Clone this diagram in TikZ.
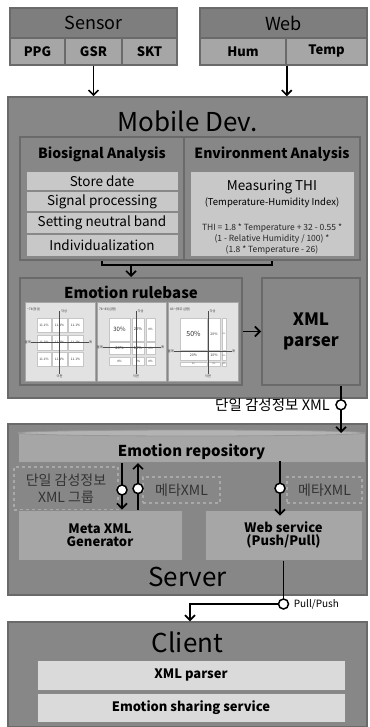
\documentclass[tikz,border=0pt]{standalone}
\usepackage{fontspec}
\setmainfont{Noto Sans CJK KR}
\usetikzlibrary{arrows.meta}

\definecolor{bgGray}{HTML}{878787}
\definecolor{edgeGray}{HTML}{6A6A6A}
\definecolor{headGray}{HTML}{7E7E7E}
\definecolor{midGray}{HTML}{A6A6A6}
\definecolor{lightGray}{HTML}{C8C8C8}
\definecolor{paleGray}{HTML}{DADADA}
\definecolor{chartGray}{HTML}{E2E2E2}
\definecolor{dashGray}{HTML}{A9A9A9}

\newcommand{\fsz}[1]{\fontsize{#1}{#1}\selectfont}

\tikzset{
  box/.style={draw=edgeGray, line width=1.5pt, inner sep=0pt, align=center},
  container/.style={box, fill=bgGray},
  panel/.style={box, line width=2pt, fill=bgGray},
  cell/.style={box, fill=midGray, minimum height=27pt, font=\bfseries\fsz{13}},
  head/.style={font=\bfseries\fsz{14}},
  bigtitle/.style={font=\fsz{26}},
  stackrow/.style={box, draw=edgeGray!80, line width=1pt, fill=lightGray, minimum width=152pt, font=\fsz{13.5}},
  lightbox/.style={box, draw=edgeGray!80, line width=1pt, fill=lightGray},
  dashbox/.style={box, draw=dashGray, dashed, line width=1.5pt, fill=bgGray, text=black!80, font=\fontsize{14}{17}\selectfont, align=center},
  midbox/.style={box, draw=edgeGray!80, line width=1pt, fill=midGray, font=\bfseries\fsz{13}, align=center},
  clientbar/.style={box, draw=edgeGray!80, line width=1pt, fill=paleGray, minimum width=308pt, minimum height=30pt, font=\bfseries\fsz{13}},
  flow/.style={line width=1.6pt, -{Straight Barb[length=5pt, width=10pt]}},
  port/.style={circle, fill=white, draw=black, line width=1.5pt, minimum size=10pt, inner sep=0pt},
  chartbox/.style={box, draw=edgeGray!60, line width=1pt, fill=chartGray},
  chartcell/.style={draw=gray!45, line width=0.3pt, fill=white},
  axisline/.style={draw=gray!60!black, line width=0.4pt},
  tinytext/.style={font=\fsz{3.2}, text=gray!40!black, inner sep=0pt}
}

\begin{document}
\begin{tikzpicture}[x=1pt, y=-1pt]
  \useasboundingbox[fill=white] (0,0) rectangle (369,727);

  % helper for the axes of one rule chart
  \newcommand{\chartaxes}[3]{%
    \draw[axisline] (#1,9) -- (#1,72);
    \draw[axisline] (6,#2) -- (64,#2);
    \node[tinytext, anchor=west] (ctitle) at (2,7) {#3};
    \node[tinytext, anchor=west] (ctop) at (#1+1.5,9) {각성};
    \node[tinytext, anchor=north] (cbot) at (#1,73) {이완};
    \node[tinytext, anchor=east] (cleft) at (6,#2) {불\\쾌};
    \node[tinytext, anchor=west] (cright) at (64,#2) {쾌};
  }

  %==================== sources ====================
  \node[box, fill=headGray, minimum width=167pt, minimum height=30pt, font=\fsz{18}] (sensor) at (93.5,23) {Sensor};
  \node[cell, minimum width=55pt] (ppg) at (37.5,51.5) {PPG};
  \node[cell, minimum width=57pt] (gsr) at (93.5,51.5) {GSR};
  \node[cell, minimum width=55pt] (skt) at (149.5,51.5) {SKT};

  \node[box, fill=headGray, minimum width=167pt, minimum height=30pt, font=\fsz{18}] (web) at (283.5,23) {Web};
  \node[cell, minimum width=86pt] (hum) at (243,51.5) {Hum};
  \node[cell, minimum width=81pt] (temp) at (326.5,51.5) {Temp};

  %==================== mobile device ====================
  \node[container, minimum width=359pt, minimum height=301pt] (mobile) at (187.5,247.5) {};
  \node[bigtitle] (mobiletitle) at (187.5,121) {Mobile Dev.};
  \draw[flow] (gsr.south) -- (gsr.south |- mobile.north);
  \draw[flow] (hum.south east) -- (hum.south east |- mobile.north);

  % analysis panels
  \node[panel, minimum width=164pt, minimum height=123pt] (bio) at (102,198.5) {};
  \node[panel, minimum width=176pt, minimum height=123pt] (env) at (272,198.5) {};
  \node[head] (biotitle) at (102,154) {Biosignal Analysis};
  \node[head] (envtitle) at (272,154) {Environment Analysis};

  \node[stackrow, minimum height=19pt] (store) at (102,181.5) {Store date};
  \node[stackrow, minimum height=20pt] (signal) at (102,202) {Signal processing};
  \node[stackrow, minimum height=20pt] (neutral) at (102,223) {Setting neutral band};
  \node[stackrow, minimum height=22pt] (indiv) at (102,245) {Individualization};

  \node[lightbox, minimum width=164pt, minimum height=84pt] (thi) at (272,214) {};
  \node[font=\fsz{13.5}] (thititle) at (272,187) {Measuring THI};
  \node[font=\fsz{9.5}] (thisub) at (272,203) {(Temperature-Humidity Index)};
  \node[font=\fontsize{8.5}{11}\selectfont, align=center, text=black!85] (thiform) at (272,239)
    {THI = 1.8 * Temperature + 32 - 0.55 *\\(1 - Relative Humidity / 100) *\\(1.8 * Temperature - 26)};

  % rulebase and parser
  \node[panel, minimum width=222pt, minimum height=107pt] (rules) at (131,331.5) {};
  \node[head, font=\bfseries\fsz{15}] (rulestitle) at (131,292) {Emotion rulebase};
  \node[panel, minimum width=98pt, minimum height=107pt, font=\bfseries\fontsize{17}{21}\selectfont] (parser) at (311,331.5) {XML\\parser};

  \draw[line width=1.5pt] (bio.south) -- ++(0,4) coordinate (bl) -| (env.south);
  \draw[flow] (bl -| rules.north) -- (rules.north);
  \draw[flow] (rules.east) -- (parser.west);

  \node[chartbox, minimum width=70pt, minimum height=79pt] (chartA) at (60,341.5) {};
  \node[chartbox, minimum width=69pt, minimum height=79pt] (chartB) at (131.5,341.5) {};
  \node[chartbox, minimum width=70pt, minimum height=79pt] (chartC) at (203,341.5) {};

  \begin{scope}[shift={(25,302)}]
    \foreach \ya/\yb in {16/30,33/48,50/64}
      \foreach \xa/\xb in {12/26,27/42,43/58}
        {\draw[chartcell] (\xa,\ya) rectangle (\xb,\yb);
         \node[tinytext] (cellA) at ({(\xa+\xb)/2},{(\ya+\yb)/2}) {11.1\%};}
    \chartaxes{34.5}{40.5}{\textasciitilde78(정상)}
  \end{scope}

  \begin{scope}[shift={(97,302)}]
    \foreach \xa/\xb/\ya/\yb/\v/\s in {12/33/16/39/30\%/6, 35/47/16/39/20\%/4, 49/58/16/39/0\%/3,
        12/33/40/52/20\%/4, 35/47/40/52/10\%/4, 49/58/40/52/0\%/3,
        12/33/55/63/0\%/3, 35/47/55/63/0\%/3, 49/58/55/63/0\%/3}
      {\draw[chartcell] (\xa,\ya) rectangle (\xb,\yb);
       \node[tinytext, font=\fsz{\s}] (cellB) at ({(\xa+\xb)/2},{(\ya+\yb)/2}) {\v};}
    \chartaxes{39}{45}{78\textasciitilde83(심함)}
  \end{scope}

  \begin{scope}[shift={(168,302)}]
    \foreach \xa/\xb/\ya/\yb/\v/\s in {12/39/16/48/50\%/7, 40/52/16/48/20\%/3.5, 54/58/16/48/0\%/2,
        12/39/49/58/20\%/3.5, 40/52/49/58/10\%/3.5, 54/58/49/58/0\%/2,
        12/39/60/64/0\%/2, 40/52/60/64/0\%/2, 54/58/60/64/0\%/2}
      {\draw[chartcell] (\xa,\ya) rectangle (\xb,\yb);
       \node[tinytext, font=\fsz{\s}] (cellC) at ({(\xa+\xb)/2},{(\ya+\yb)/2}) {\v};}
    \chartaxes{40}{49}{83\textasciitilde(매우 심함)}
  \end{scope}

  \coordinate (outA) at ([xshift=-20pt]parser.south east);

  %==================== server ====================
  \node[container, minimum width=359pt, minimum height=171pt] (server) at (187.5,509.5) {};
  \node[bigtitle] (servertitle) at (187.5,577) {Server};
  \node[box, draw=edgeGray!80, line width=1pt, fill=midGray, minimum width=347pt, minimum height=29pt] (repo) at (191.5,448) {};
  \draw[fill=midGray!85!white, draw=edgeGray!70, line width=0.8pt] (repo.north) ellipse [x radius=173.5pt, y radius=3pt];
  \node[head, font=\bfseries\fsz{15}] (repotitle) at (191.5,452) {Emotion repository};

  \node[dashbox, minimum width=104pt, minimum height=43pt] (group) at (66,488.5) {단일 감성정보\\XML 그룹};
  \node[dashbox, minimum width=77pt, minimum height=26pt] (metaA) at (181.5,490) {메타XML};
  \node[dashbox, minimum width=75pt, minimum height=26pt] (metaB) at (324.5,490) {메타XML};

  \node[midbox, minimum width=164pt, minimum height=50pt] (gen) at (100,535) {Meta XML\\Generator};
  \node[midbox, minimum width=157pt, minimum height=50pt] (websvc) at (283.5,535) {Web service\\(Push/Pull)};

  \coordinate (xa) at (122,0);
  \coordinate (xb) at (138,0);
  \coordinate (xc) at (280,0);
  \draw[flow] (repo.south -| xa) -- node[port, pos=0.58] (portB) {} (gen.north -| xa);
  \draw[flow] (gen.north -| xb) -- node[port, pos=0.45] (portC) {} (repo.south -| xb);
  \draw[flow] ([yshift=2pt]repo.south -| xc) -- node[port, pos=0.5] (portD) {} ([yshift=-6pt]websvc.north -| xc);

  \draw[flow] (outA) -- node[port, pos=0.4] (portA) {} (outA |- repo.north);
  \node[anchor=east, font=\fsz{14.5}] (labA) at ([xshift=-2pt]portA.west) {단일 감성정보 XML};

  %==================== client ====================
  \node[container, minimum width=359pt, minimum height=105pt] (client) at (187.5,674.5) {};
  \node[bigtitle] (clienttitle) at (187.5,642) {Client};
  \node[clientbar] (cparser) at (191,675) {XML parser};
  \node[clientbar, minimum height=29pt] (sharing) at (191,708) {Emotion sharing service};

  \coordinate (turn) at (190,604);
  \draw[flow] (websvc.south) |- (turn) -- (turn |- client.north);
  \node[port] (portE) at (websvc.south |- turn) {};
  \node[anchor=west, font=\fsz{10}] (labE) at ([xshift=1pt]portE.east) {Pull/Push};
\end{tikzpicture}
\end{document}
